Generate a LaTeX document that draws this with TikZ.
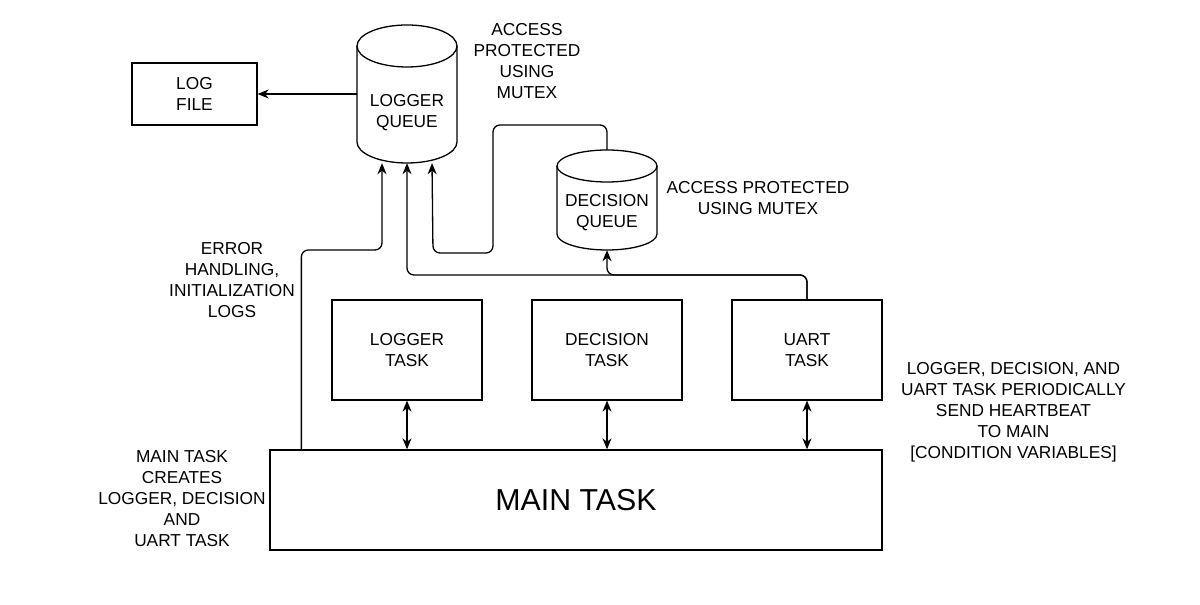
\documentclass[tikz,border=0pt]{standalone}
\usepackage{fontspec}
\setmainfont{Liberation Sans}
\usetikzlibrary{arrows.meta,calc}
\begin{document}
\begin{tikzpicture}[x=1pt,y=1pt,
  every node/.style={font=\fontsize{17.3pt}{21pt}\selectfont, align=center, inner sep=0pt},
  boxst/.style={draw, line width=1.3pt, inner sep=0pt},
  cylst/.style={draw=none, inner sep=0pt},
  cylline/.style={line width=1.3pt},
  conn/.style={line width=1.3pt, rounded corners=7pt, -{Stealth[length=11pt,width=9pt,inset=3.5pt]}},
  dconn/.style={line width=1.3pt, {Stealth[length=11pt,width=9pt,inset=3.5pt]}-{Stealth[length=11pt,width=9pt,inset=3.5pt]}}
]
\useasboundingbox (0,0) rectangle (1200,605);
\fill[white] (0,0) rectangle (1200,605);

% Logger queue cylinder
\node[cylst, minimum width=100pt, minimum height=138pt] (lq) at (407,511) {};
\draw[cylline] (407,559) ellipse [x radius=50, y radius=21];
\draw[cylline] (357,559) -- (357,463) arc[start angle=180, end angle=360, x radius=50, y radius=21] -- (457,559);
\node (lqtext) at (407,492) {LOGGER\\QUEUE};

% Decision queue cylinder
\node[cylst, minimum width=100pt, minimum height=100pt] (dq) at (607,405) {};
\draw[cylline] (607,439) ellipse [x radius=50, y radius=16];
\draw[cylline] (557,439) -- (557,371) arc[start angle=180, end angle=360, x radius=50, y radius=16] -- (657,439);
\node (dqtext) at (607,392.5) {DECISION\\QUEUE};

% Boxes
\node[boxst, minimum width=125pt, minimum height=62pt] (logfile) at (194.5,511) {LOG\\FILE};
\node[boxst, minimum width=150pt, minimum height=100pt] (ltask) at (407,255) {LOGGER\\TASK};
\node[boxst, minimum width=150pt, minimum height=100pt] (dtask) at (607,255) {DECISION\\TASK};
\node[boxst, minimum width=150pt, minimum height=100pt] (utask) at (807,255) {UART\\TASK};
\node[boxst, minimum width=612pt, minimum height=100pt, font=\fontsize{30.3pt}{35pt}\selectfont] (main) at (576,105) {MAIN TASK};

% Labels
\node (lbl1) at (527,543.5) {ACCESS\\PROTECTED\\USING\\MUTEX};
\node (lbl2) at (758,407) {ACCESS PROTECTED\\USING MUTEX};
\node (lbl3) at (232,325) {ERROR\\HANDLING,\\INITIALIZATION\\LOGS};
\node (lbl4) at (1013.5,193) {LOGGER, DECISION, AND\\UART TASK PERIODICALLY\\SEND HEARTBEAT\\TO MAIN\\ {[CONDITION VARIABLES]}};
\node (lbl5) at (182,106) {MAIN TASK\\CREATES\\LOGGER, DECISION\\AND\\UART TASK};

% Connectors
\draw[conn] (lq.west) -- (logfile.east);
\draw[conn] ([xshift=32pt]main.north west) |- (382,355) -- ([xshift=-25pt]lq.south);
\draw[conn] (utask.north) |- (407,330) -- (lq.south);
\draw[conn] (utask.north) |- (607,330) -- (dq.south);
\draw[conn] (dq.north) |- (493,480) |- (433,352) -- ([xshift=25pt]lq.south);

\draw[dconn] (ltask.south) -- (ltask.south |- main.north);
\draw[dconn] (dtask.south) -- (dtask.south |- main.north);
\draw[dconn] (utask.south) -- (utask.south |- main.north);
\end{tikzpicture}
\end{document}
